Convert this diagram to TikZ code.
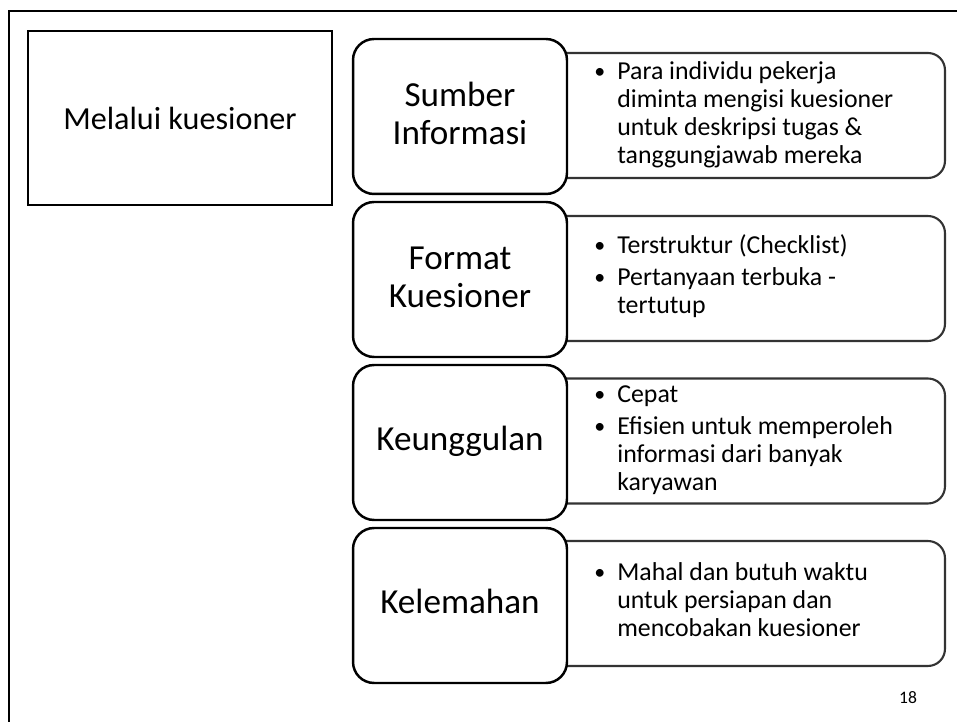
\documentclass[tikz,border=0pt]{standalone}
\usepackage{fontspec}
\setmainfont{Carlito}
\newcommand{\butir}{{\fontsize{12.5}{12.5}\selectfont\raisebox{0.6pt}{\textbullet}}}
\begin{document}
\begin{tikzpicture}[x=0.02cm,y=-0.02cm]
    \tikzstyle{mainbox}=[rectangle,draw,line width=1.2pt,fill=white,minimum width=6.08cm,minimum height=3.48cm,font=\fontsize{18.3}{21}\selectfont]
    \tikzstyle{catbox}=[rectangle,rounded corners=0.42cm,draw,line width=1.4pt,fill=white,minimum width=4.28cm,minimum height=3.1cm]
    \tikzstyle{cattext}=[anchor=base,inner sep=0pt,font=\fontsize{20}{21.6}\selectfont]
    \tikzstyle{infobox}=[rectangle,rounded corners=0.34cm,draw=black!80,line width=1.2pt,fill=white,minimum width=8.1cm,minimum height=2.5cm]
    \tikzstyle{infotext}=[anchor=base west,inner sep=0pt,font=\fontsize{14.7}{15.9}\selectfont]
    \useasboundingbox (0,0) rectangle (957,722);

    % slide frame
    \draw[line width=1.4pt] (9,722) |- (957,11);

    \node[mainbox] (melalui) at (180,118) {Melalui kuesioner};

    % detail boxes first, the category boxes lie over their left ends
    \node[infobox] (isiSumber) at (742.5,115.5) {};
    \node[infobox] (isiFormat) at (742.5,278.5) {};
    \node[infobox] (isiUnggul) at (742.5,441) {};
    \node[infobox] (isiLemah)  at (742.5,603.5) {};

    \node[infotext] (tSumber) at (594,79.5) {\begin{tabular}[t]{@{}p{0.46cm}@{}l@{}}
        \butir & Para individu pekerja\\
               & diminta mengisi kuesioner\\
               & untuk deskripsi tugas \&\\
               & tanggungjawab mereka
        \end{tabular}};
    \node[infotext] (tFormat) at (594,254) {\begin{tabular}[t]{@{}p{0.46cm}@{}l@{}}
        \butir & Terstruktur (Checklist)\\[2.3pt]
        \butir & Pertanyaan terbuka -\\
               & tertutup
        \end{tabular}};
    \node[infotext] (tUnggul) at (594,402.5) {\begin{tabular}[t]{@{}p{0.46cm}@{}l@{}}
        \butir & Cepat\\[2.3pt]
        \butir & Efisien untuk memperoleh\\
               & informasi dari banyak\\
               & karyawan
        \end{tabular}};
    \node[infotext] (tLemah) at (594,581) {\begin{tabular}[t]{@{}p{0.46cm}@{}l@{}}
        \butir & Mahal dan butuh waktu\\
               & untuk persiapan dan\\
               & mencobakan kuesioner
        \end{tabular}};

    \node[catbox] (sumber) at (460,116.5) {};
    \node[catbox] (format) at (460,279.5) {};
    \node[catbox] (unggul) at (460,442.5) {};
    \node[catbox] (lemah)  at (460,605.5) {};

    \node[cattext] (tKat1) at (460,107) {\begin{tabular}[t]{@{}c@{}}Sumber\\ Informasi\end{tabular}};
    \node[cattext] (tKat2) at (460,270) {\begin{tabular}[t]{@{}c@{}}Format\\ Kuesioner\end{tabular}};
    \node[cattext] (tKat3) at (460,451) {Keunggulan};
    \node[cattext] (tKat4) at (460,613.5) {Kelemahan};

    \node[font=\fontsize{10}{12}\selectfont] (halaman) at (908,698) {18};

\end{tikzpicture}
\end{document}
